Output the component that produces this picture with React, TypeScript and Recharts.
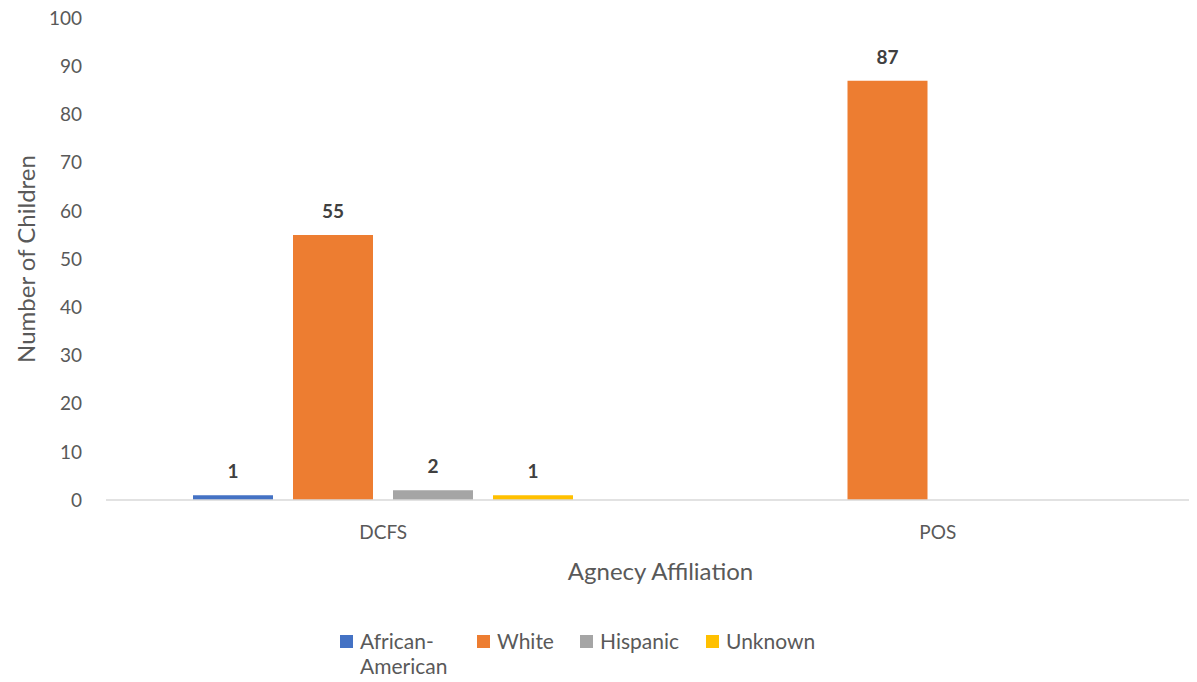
import React from 'react'
import {
  BarChart,
  Bar,
  XAxis,
  YAxis,
  Legend,
  LabelList,
  Label,
} from 'recharts'

const categories = ['DCFS', 'POS']
const africanAmerican = [1, 0]
const white = [55, 87]
const hispanic = [2, 0]
const unknown = [1, 0]
const yTicks = [0, 10, 20, 30, 40, 50, 60, 70, 80, 90, 100]

const seriesNames = ['African-American', 'White', 'Hispanic', 'Unknown']
const seriesKeys = ['aa', 'white', 'hispanic', 'unknown']
const colors = ['#4472C4', '#ED7D31', '#A5A5A5', '#FFC000']

const FONT = 'Lato, "Open Sans", sans-serif'

const data = categories.map((name, i) => ({
  name,
  aa: africanAmerican[i],
  white: white[i],
  hispanic: hispanic[i],
  unknown: unknown[i],
}))

// only label non-zero bars, like the source chart
const ValueLabel = (props: any) => {
  const { x, y, width, value } = props
  if (!value) return null
  return (
    <text
      x={x + width / 2}
      y={y - 17}
      textAnchor="middle"
      fill="#404040"
      fontFamily={FONT}
      fontWeight="bold"
      fontSize={19}
    >
      {value}
    </text>
  )
}

const legendLeft = [340, 477, 580, 706]

const LegendContent = () => (
  <div
    style={{
      position: 'relative',
      height: 92,
      fontFamily: FONT,
      fontSize: 21,
      color: '#595959',
    }}
  >
    {seriesNames.map((name, i) => (
      <div
        key={name}
        style={{ position: 'absolute', left: legendLeft[i], top: 38, display: 'flex' }}
      >
        <div
          style={{
            width: 13,
            height: 13,
            background: colors[i],
            marginTop: 7,
            marginRight: 7,
          }}
        />
        <div style={{ lineHeight: '25px', width: i === 0 ? 100 : 'auto' }}>
          {name === 'African-American' ? (
            <>
              African-
              <br />
              American
            </>
          ) : (
            name
          )}
        </div>
      </div>
    ))}
  </div>
)

export default function App() {
  return (
    <div
      style={{
        margin: -8,
        width: 1197,
        height: 682,
        overflow: 'hidden',
        background: '#fff',
      }}
    >
      <BarChart
        width={1215}
        height={682}
        data={data}
        margin={{ top: 18, right: 0, left: 0, bottom: 0 }}
        barSize={80}
        barGap={20}
      >
        <XAxis
          dataKey="name"
          height={90}
          axisLine={{ stroke: '#D9D9D9', strokeWidth: 1.5 }}
          tickLine={false}
          tickSize={0}
          tickMargin={26}
          tick={{ fill: '#595959', fontSize: 19, fontFamily: FONT }}
        >
          <Label
            content={(p: any) => {
              const vb = p.viewBox
              return (
                <text
                  x={vb.x + vb.width / 2}
                  y={580}
                  textAnchor="middle"
                  fill="#595959"
                  fontFamily={FONT}
                  fontSize={24}
                >
                  Agnecy Affiliation
                </text>
              )
            }}
          />
        </XAxis>
        <YAxis
          width={106}
          domain={[0, 100]}
          ticks={yTicks}
          axisLine={false}
          tickLine={false}
          tickSize={0}
          tickMargin={24}
          tick={{ fill: '#595959', fontSize: 19, fontFamily: FONT }}
        >
          <Label
            content={(p: any) => {
              const vb = p.viewBox
              const cy = vb.y + vb.height / 2
              return (
                <text
                  x={25}
                  y={cy}
                  transform={`rotate(-90, 25, ${cy})`}
                  textAnchor="middle"
                  dominantBaseline="central"
                  fill="#595959"
                  fontFamily={FONT}
                  fontSize={24}
                >
                  Number of Children
                </text>
              )
            }}
          />
        </YAxis>
        <Legend verticalAlign="bottom" content={<LegendContent />} />
        {seriesKeys.map((k, i) => (
          <Bar
            key={k}
            dataKey={k}
            name={seriesNames[i]}
            fill={colors[i]}
            isAnimationActive={false}
          >
            <LabelList dataKey={k} content={<ValueLabel />} />
          </Bar>
        ))}
      </BarChart>
    </div>
  )
}
